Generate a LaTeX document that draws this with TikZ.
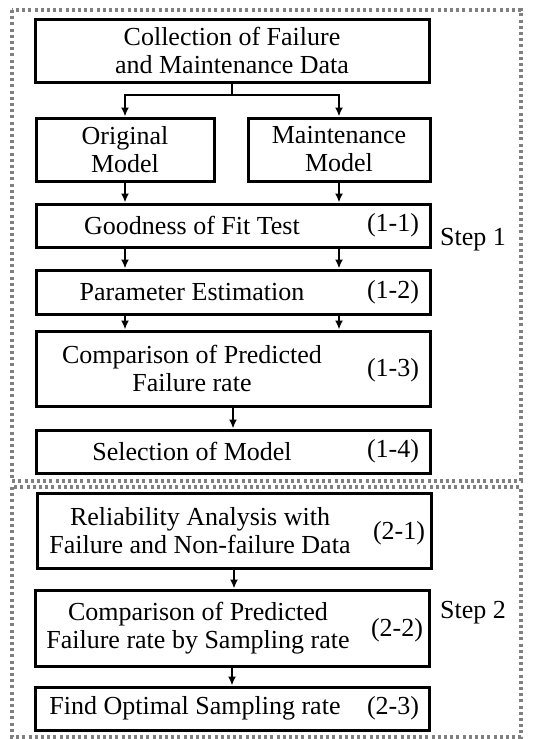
\documentclass[tikz,border=0pt]{standalone}
\usepackage{fontspec}
\setmainfont{Liberation Serif}
\usetikzlibrary{arrows.meta}
\begin{document}
\begin{tikzpicture}[x=1pt,y=-1pt,
    box/.style={draw,line width=3pt,inner sep=0pt},
    txt/.style={align=center,inner sep=0pt,font=\fontsize{26}{28}\selectfont},
    frame/.style={draw=black!50,line width=3.2pt,dash pattern=on 3pt off 3.2pt},
    arr/.style={-{Latex[length=9pt,width=8pt]},line width=2.5pt}]
      \useasboundingbox (0,0) rectangle (533,739);
      % dotted frames
      \draw[frame] (12,10) rectangle (521,481);
      \draw[frame] (12,487) rectangle (521,737);
      % step 1
      \node[box,minimum width=394,minimum height=63] (coll) at (232,50.5) {};
      \node[txt] (coll-t) at (232,50.5) {Collection of Failure\\and Maintenance Data};
      \node[box,minimum width=178,minimum height=63] (orig) at (125,149.5) {};
      \node[txt] (orig-t) at (125,149.5) {Original\\Model};
      \node[box,minimum width=182,minimum height=63] (maint) at (339,149.5) {};
      \node[txt] (maint-t) at (339,149.5) {Maintenance\\Model};
      \node[box,minimum width=394,minimum height=43] (gof) at (233,225.5) {};
      \node[txt] (gof-t) at (192,225.5) {Goodness of Fit Test};
      \node[txt] (gof-n) at (393,225.5) {(1-1)};
      \node[box,minimum width=394,minimum height=44] (param) at (233,292) {};
      \node[txt] (param-t) at (192,292) {Parameter Estimation};
      \node[txt] (param-n) at (393,292) {(1-2)};
      \node[box,minimum width=394,minimum height=75] (comp1) at (233,368.5) {};
      \node[txt] (comp1-t) at (192,368.5) {Comparison of Predicted\\Failure rate};
      \node[txt] (comp1-n) at (393,370) {(1-3)};
      \node[box,minimum width=394,minimum height=43] (sel) at (233,451.5) {};
      \node[txt] (sel-t) at (192,451.5) {Selection of Model};
      \node[txt] (sel-n) at (393,451.5) {(1-4)};
      \node[txt] (step1) at (473,240) {Step 1};
      % step 2
      \node[box,minimum width=394,minimum height=75] (rel) at (234,530.5) {};
      \node[txt] (rel-t) at (200,530.5) {Reliability Analysis with\\Failure and Non-failure Data};
      \node[txt] (rel-n) at (399,533) {(2-1)};
      \node[box,minimum width=394,minimum height=76] (comp2) at (232,628) {};
      \node[txt] (comp2-t) at (198,628) {Comparison of Predicted\\Failure rate by Sampling rate};
      \node[txt] (comp2-n) at (397,630) {(2-2)};
      \node[box,minimum width=394,minimum height=43] (find) at (232,708.5) {};
      \node[txt] (find-t) at (195,708.5) {Find Optimal Sampling rate};
      \node[txt] (find-n) at (393,708.5) {(2-3)};
      \node[txt] (step2) at (473,613) {Step 2};
      % connectors
      \coordinate (fork) at (232,95);
      \draw[line width=2.5pt] (coll.south) -- (fork);
      \draw[arr] (fork) -| (orig.north);
      \draw[arr] (fork) -| (maint.north);
      \draw[arr] (orig.south) -- (orig.south |- gof.north);
      \draw[arr] (maint.south) -- (maint.south |- gof.north);
      \draw[arr] (gof.south -| orig.south) -- (param.north -| orig.south);
      \draw[arr] (gof.south -| maint.south) -- (param.north -| maint.south);
      \draw[arr] (param.south -| orig.south) -- (comp1.north -| orig.south);
      \draw[arr] (param.south -| maint.south) -- (comp1.north -| maint.south);
      \draw[arr] (comp1.south) -- (sel.north);
      \draw[arr] (rel.south) -- (comp2.north -| rel.south);
      \draw[arr] (comp2.south) -- (find.north);
    \end{tikzpicture}
\end{document}
